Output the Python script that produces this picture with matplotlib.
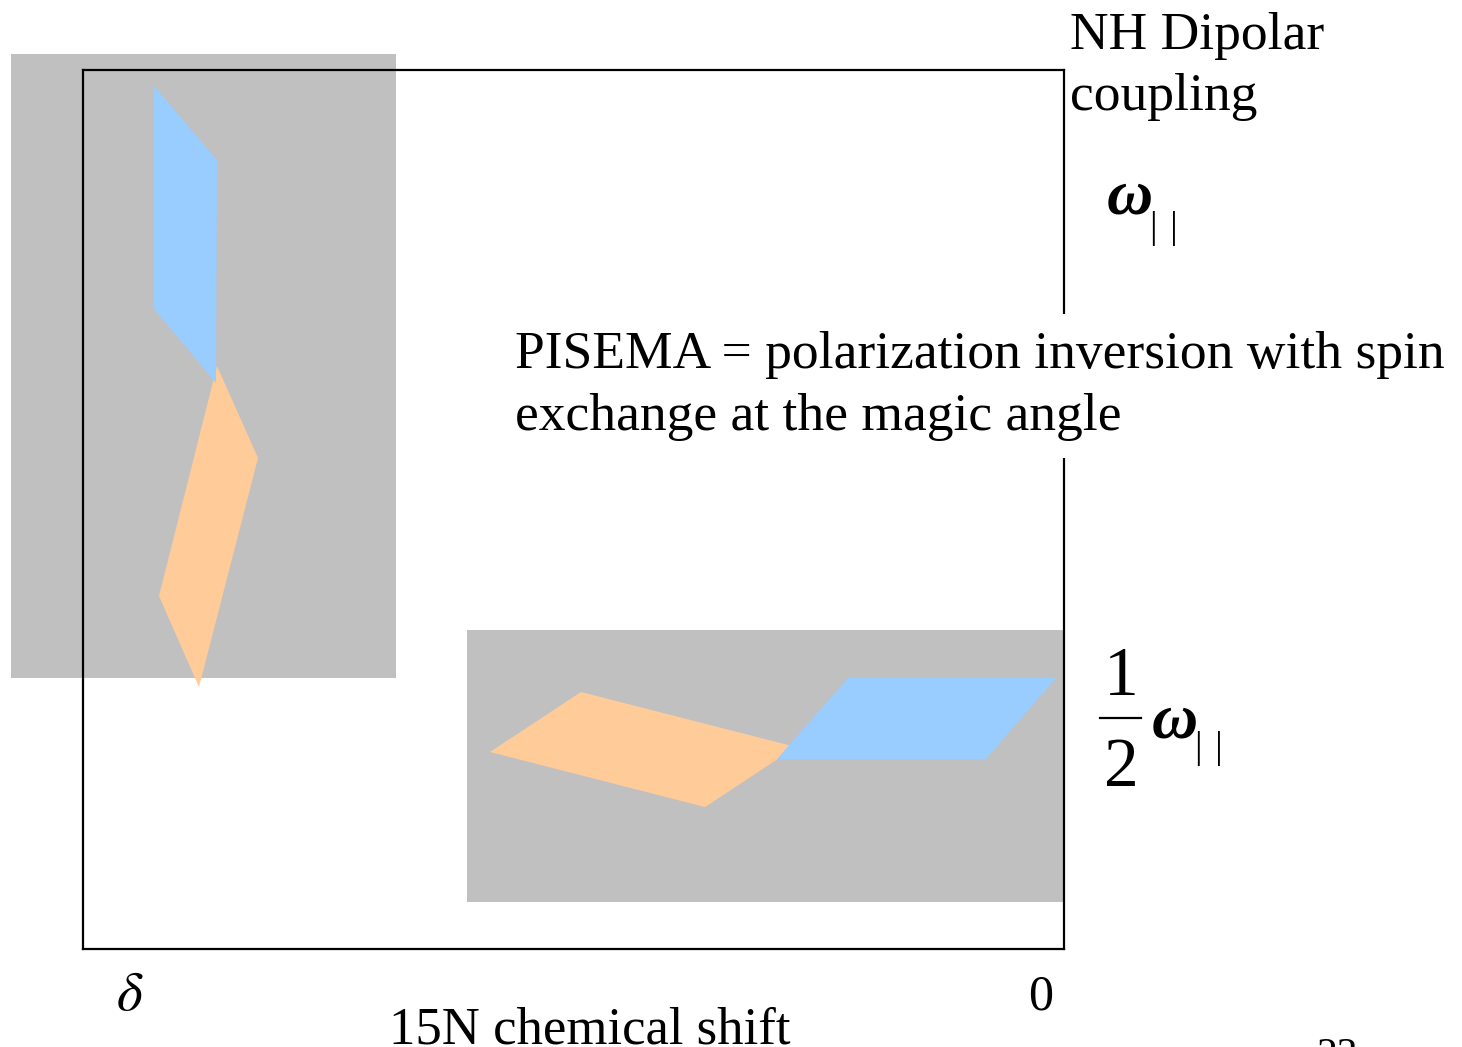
import matplotlib
import matplotlib.pyplot as plt
from matplotlib.patches import Polygon, Rectangle

matplotlib.use("Agg")

plt.rcParams["font.family"] = ["Liberation Serif", "DejaVu Serif"]
plt.rcParams["mathtext.fontset"] = "stix"

# diagram coordinates (pixel-like units of the frame)
xLimits = [83, 1064]
yLimits = [949, 70]

# gray regions: x, y, width, height
grayBoxes = [(11, 54, 385, 624), (467, 630, 597, 272)]

# spectrum shapes
blueShapes = [
    [(154, 86), (217, 160), (216, 383), (154, 309)],
    [(848, 678), (1056, 678), (986, 759), (777, 759)],
]
orangeShapes = [
    [(217, 366), (258, 458), (199, 687), (159, 596)],
    [(490, 752), (581, 692), (796, 747), (705, 807)],
]

GRAY = "#C0C0C0"
BLUE = "#99CCFF"
ORANGE = "#FFCC99"

fig = plt.figure(figsize=(14.62, 10.47), dpi=100)
W, H = 1462, 1047
ax = fig.add_axes([
    xLimits[0] / W,
    1 - yLimits[0] / H,
    (xLimits[1] - xLimits[0]) / W,
    (yLimits[0] - yLimits[1]) / H,
])
ax.set_xlim(xLimits)
ax.set_ylim(yLimits)
ax.set_xticks([])
ax.set_yticks([])
for sp in ax.spines.values():
    sp.set_linewidth(1.6)
    sp.set_color("black")

for (x, y, w, h) in grayBoxes:
    ax.add_patch(Rectangle((x, y), w, h, facecolor=GRAY, edgecolor="none",
                           clip_on=False, zorder=1))
for shape in orangeShapes:
    ax.add_patch(Polygon(shape, closed=True, facecolor=ORANGE,
                         edgecolor="none", clip_on=False, zorder=1.2))
for shape in blueShapes:
    ax.add_patch(Polygon(shape, closed=True, facecolor=BLUE,
                         edgecolor="none", clip_on=False, zorder=1.3))

ax.text(1070, 110, "NH Dipolar\ncoupling", fontsize=38.5, va="baseline",
        ha="left", linespacing=1.36, clip_on=False)

# omega parallel (top)
ax.text(1107, 214, "ω", fontsize=46, fontstyle="italic", fontweight="bold",
        va="baseline", ha="left", clip_on=False)
ax.text(1150, 238, "|\u2004|", fontsize=27, va="baseline", ha="left",
        clip_on=False)

ax.text(515, 430, "PISEMA = polarization inversion with spin\nexchange at the magic angle",
        fontsize=38.5, va="baseline", ha="left", linespacing=1.38, clip_on=False,
        zorder=4, bbox=dict(facecolor="white", edgecolor="none", pad=12))

# one half omega parallel (bottom)
ax.text(1121, 695, "1", fontsize=50, va="baseline", ha="center", clip_on=False)
ax.plot([1100, 1141], [718, 718], color="black", lw=1.6, clip_on=False)
ax.text(1121, 786, "2", fontsize=50, va="baseline", ha="center", clip_on=False)
ax.text(1152, 737, "ω", fontsize=46, fontstyle="italic", fontweight="bold",
        va="baseline", ha="left", clip_on=False)
ax.text(1195, 758, "|\u2004|", fontsize=27, va="baseline", ha="left",
        clip_on=False)

ax.text(130, 1010, r"$\delta$", fontsize=40, va="baseline", ha="center",
        clip_on=False)
ax.text(1041, 1010, "0", fontsize=36, va="baseline", ha="center",
        clip_on=False)
ax.text(590, 1043, "15N chemical shift", fontsize=38, va="baseline",
        ha="center", clip_on=False)
ax.text(1337, 1067, "23", fontsize=30, va="baseline", ha="center",
        clip_on=False)

fig.savefig("out.png", dpi=100)
